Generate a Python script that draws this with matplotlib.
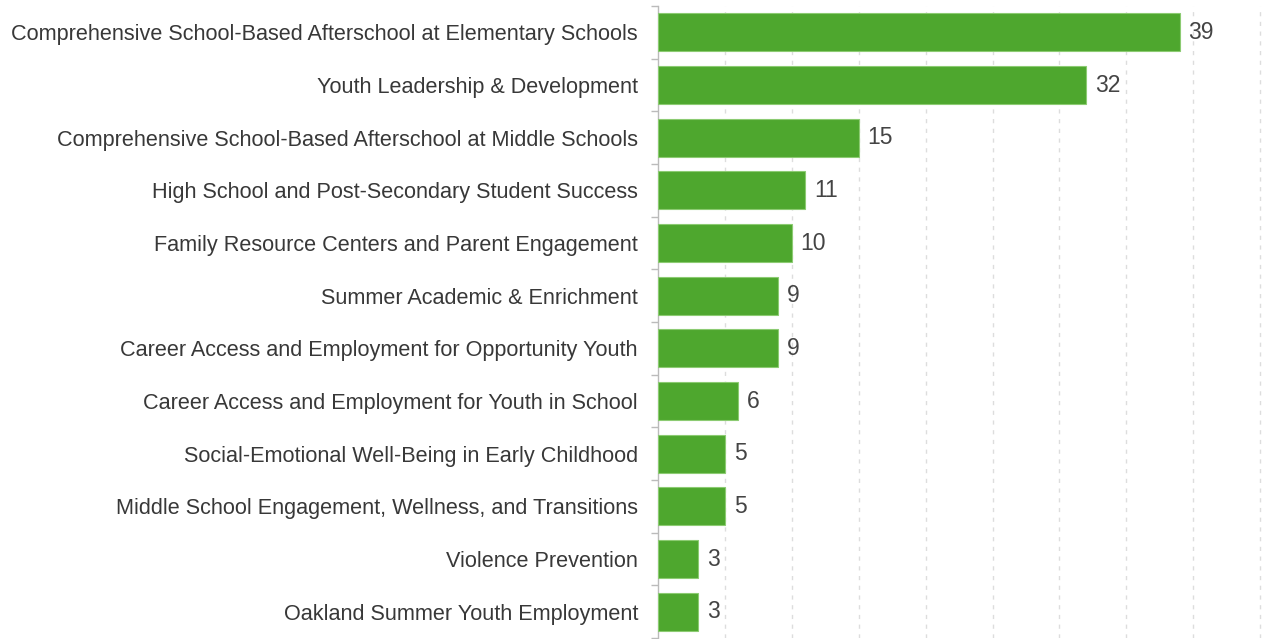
import matplotlib
matplotlib.use("Agg")
import matplotlib.pyplot as plt
import numpy as np

categories = [
    "Comprehensive School-Based Afterschool at Elementary Schools",
    "Youth Leadership & Development",
    "Comprehensive School-Based Afterschool at Middle Schools",
    "High School and Post-Secondary Student Success",
    "Family Resource Centers and Parent Engagement",
    "Summer Academic & Enrichment",
    "Career Access and Employment for Opportunity Youth",
    "Career Access and Employment for Youth in School",
    "Social-Emotional Well-Being in Early Childhood",
    "Middle School Engagement, Wellness, and Transitions",
    "Violence Prevention",
    "Oakland Summer Youth Employment",
]
values = [39, 32, 15, 11, 10, 9, 9, 6, 5, 5, 3, 3]

plt.rcParams['font.family'] = ['Liberation Sans', 'DejaVu Sans']

W, H = 1265, 639
fig = plt.figure(figsize=(W/100, H/100), dpi=100)
left = 658 / W
top = 1 - 6 / H
bottom = 1 - 638 / H
ax = fig.add_axes([left, bottom, 1 - left, top - bottom])

n = len(categories)
y = np.arange(n)
ax.barh(y, values, height=0.72, color='#4EA72E', edgecolor='#8CCB72', linewidth=0.8, zorder=3)
ax.set_ylim(n - 0.5, -0.5)
ax.set_xlim(0, (W - 658) / 13.38)

ax.set_yticks(y)
ax.set_yticklabels(categories, fontsize=15.6, color='#383838')
ax.tick_params(axis='y', which='major', length=0, pad=14.4)
ax.set_yticks(np.arange(n + 1) - 0.5, minor=True)
ax.tick_params(axis='y', which='minor', length=5, color='#BBBBBB', width=1)

ax.set_xticks(np.arange(5, 50, 5))
ax.tick_params(axis='x', length=0, labelbottom=False)
ax.grid(axis='x', linestyle=(0, (3, 4)), color='#DDDDDD', linewidth=1, zorder=0)

for s in ['top', 'right', 'bottom']:
    ax.spines[s].set_visible(False)
ax.spines['left'].set_color('#BBBBBB')
ax.spines['left'].set_linewidth(1)

for yi, v in zip(y, values):
    ax.text(v + 0.65, yi, str(v), va='center', ha='left', fontsize=16.5, color='#444444')

fig.savefig('out.png', dpi=100)
